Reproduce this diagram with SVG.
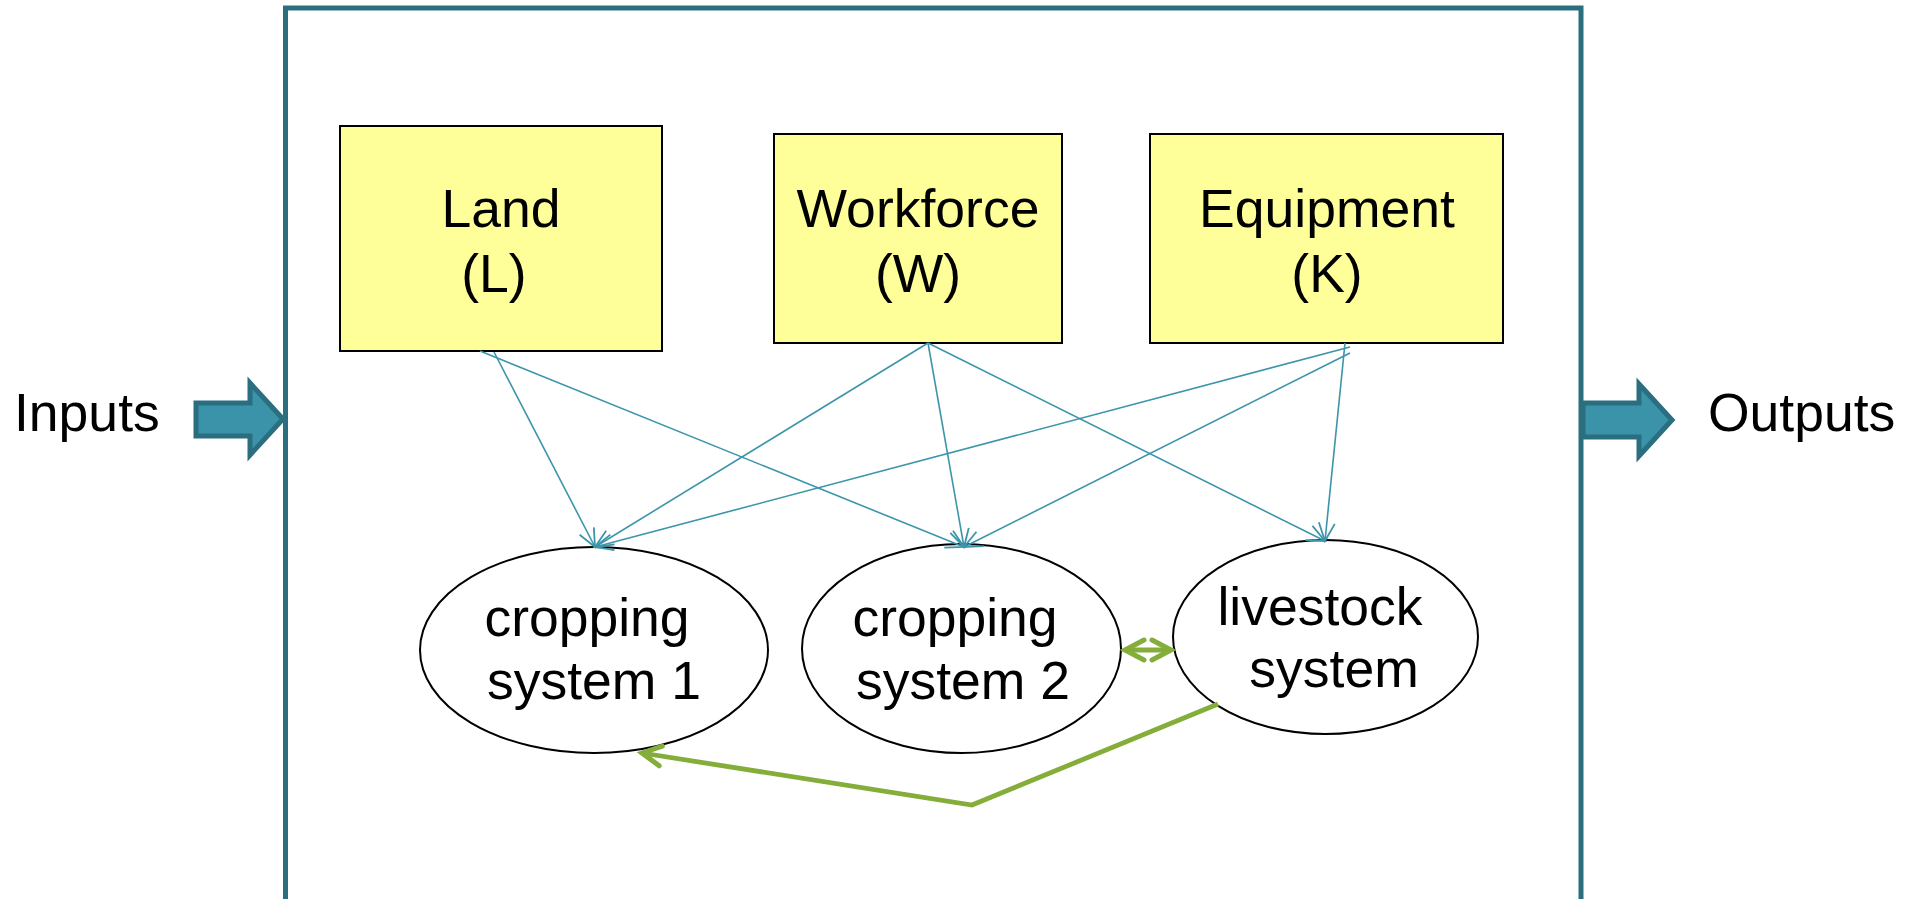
<svg xmlns="http://www.w3.org/2000/svg" width="1914" height="899" viewBox="0 0 1914 899">
  <style>
    .t { font-family: "Liberation Sans", Arial, sans-serif; font-size: 53.5px; fill: #000; }
    .c { text-anchor: middle; }
    .box { fill: #FFFF99; stroke: #000; stroke-width: 2; }
    .ell { fill: #FFFFFF; stroke: #000; stroke-width: 2; }
    .blue { stroke: #3C95AA; stroke-width: 1.6; fill: none; marker-end: url(#ab); }
    .green { stroke: #84AD3A; stroke-width: 4.8; fill: none; stroke-linejoin: miter; }
    .bigarrow { fill: #3A93A8; stroke: #2B6E80; stroke-width: 5; }
  </style>
  <defs>
    <marker id="ab" markerUnits="userSpaceOnUse" viewBox="-22 -11 24 22" refX="0" refY="0" markerWidth="24" markerHeight="22" orient="auto" overflow="visible">
      <path d="M-18,-8 L0,0 L-18,8" fill="none" stroke="#3C95AA" stroke-width="1.8"/>
    </marker>
    <marker id="ag" markerUnits="userSpaceOnUse" viewBox="-24 -14 28 28" refX="0" refY="0" markerWidth="28" markerHeight="28" orient="auto-start-reverse" overflow="visible">
      <path d="M-19,-10 L0,0 L-19,10" fill="none" stroke="#84AD3A" stroke-width="5" stroke-linecap="round" stroke-linejoin="miter"/>
    </marker>
  </defs>
  <rect width="1914" height="899" fill="#FFFFFF"/>

  <g id="output-arrow">
    <polygon class="bigarrow" points="1583,403 1639,403 1639,384 1672,420 1639,456 1639,437 1583,437"/>
  </g>
  <g id="frame">
    <rect x="285.5" y="8" width="1295.5" height="895" fill="none" stroke="#2B6E80" stroke-width="5"/>
  </g>
  <g id="input-arrow">
    <polygon class="bigarrow" points="196,403 250,403 250,383 283,419 250,455 250,436 196,436"/>
  </g>

  <g id="inputs-label"><text class="t" x="14" y="431">Inputs</text></g>
  <g id="outputs-label"><text class="t" x="1708" y="431">Outputs</text></g>

  <g id="land">
    <rect class="box" x="340" y="126" width="322" height="225"/>
    <text class="t c" x="501" y="227">Land</text>
    <text class="t c" x="494" y="292">(L)</text>
  </g>
  <g id="workforce">
    <rect class="box" x="774" y="134" width="288" height="209"/>
    <text class="t c" x="918" y="227">Workforce</text>
    <text class="t c" x="918" y="292">(W)</text>
  </g>
  <g id="equipment">
    <rect class="box" x="1150" y="134" width="353" height="209"/>
    <text class="t c" x="1327" y="227">Equipment</text>
    <text class="t c" x="1327" y="292">(K)</text>
  </g>

  <g id="cropping1">
    <ellipse class="ell" cx="594" cy="650" rx="174" ry="103"/>
    <text class="t c" x="587" y="636">cropping</text>
    <text class="t c" x="594" y="699">system 1</text>
  </g>
  <g id="cropping2">
    <ellipse class="ell" cx="961.5" cy="648.5" rx="159.5" ry="104.5"/>
    <text class="t c" x="955" y="636">cropping</text>
    <text class="t c" x="963" y="699">system 2</text>
  </g>
  <g id="livestock">
    <ellipse class="ell" cx="1325.5" cy="637" rx="152.5" ry="97"/>
    <text class="t c" x="1320" y="625">livestock</text>
    <text class="t c" x="1334" y="687">system</text>
  </g>

  <g id="connectors">
    <line class="blue" x1="494" y1="352" x2="595" y2="547"/>
    <line class="blue" x1="480" y1="351" x2="964" y2="547"/>
    <line class="blue" x1="928" y1="343" x2="595" y2="547"/>
    <line class="blue" x1="928" y1="343" x2="964" y2="547"/>
    <line class="blue" x1="928" y1="343" x2="1325" y2="541"/>
    <line class="blue" x1="1350" y1="347" x2="595" y2="547"/>
    <line class="blue" x1="1350" y1="353" x2="964" y2="547"/>
    <line class="blue" x1="1345" y1="343" x2="1325" y2="541"/>
    <line class="green" x1="1125" y1="650" x2="1171" y2="650" marker-start="url(#ag)" marker-end="url(#ag)"/>
    <polyline class="green" points="1218,704 972,805 642,753" marker-end="url(#ag)"/>
  </g>
</svg>
